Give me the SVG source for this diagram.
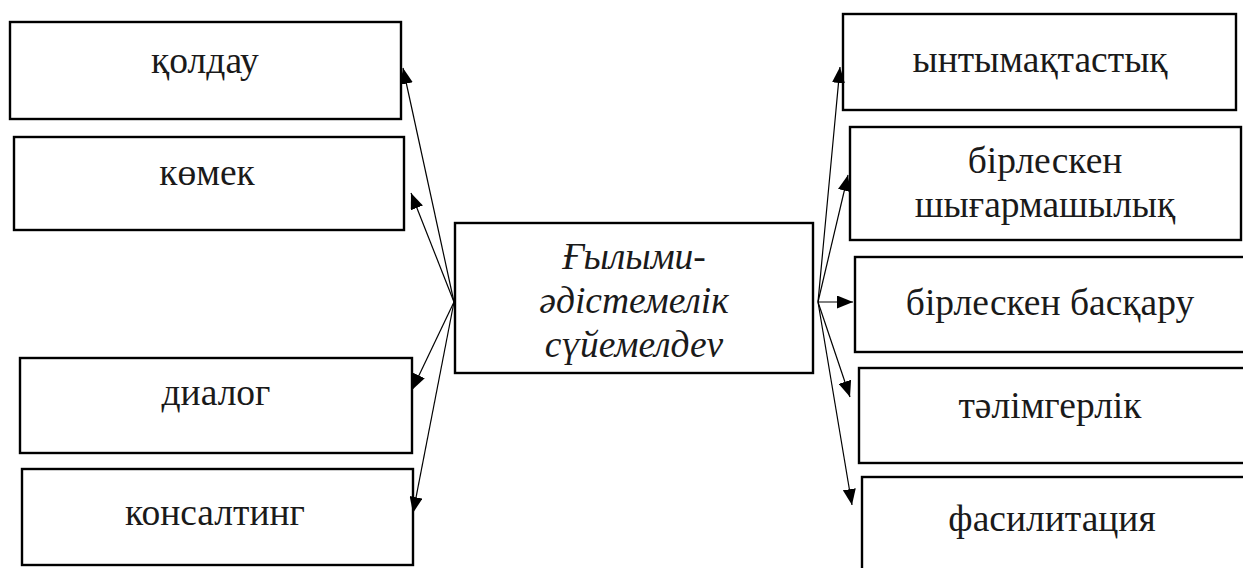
<svg xmlns="http://www.w3.org/2000/svg" width="1243" height="568" viewBox="0 0 1243 568">
<style>
.box{fill:#fff;stroke:#000;stroke-width:2.4}
.t{font-family:"Liberation Serif","Times New Roman",serif;font-size:37.5px;fill:#1a1a1a;text-anchor:middle}
.it{font-style:italic}
.con line{stroke:#000;stroke-width:1.2;marker-end:url(#ah)}
</style>
<defs>
<marker id="ah" markerUnits="userSpaceOnUse" markerWidth="16" markerHeight="13" refX="16" refY="6.5" orient="auto">
<path d="M0,0 L16,6.5 L0,13 z" fill="#000"/>
</marker>
</defs>
<rect width="1243" height="568" fill="#fff"/>
<g id="n-koldau"><rect class="box" x="10" y="22" width="391" height="97"/><text class="t" x="205" y="73">қолдау</text></g>
<g id="n-komek"><rect class="box" x="14" y="137" width="390" height="93"/><text class="t" x="207" y="185">көмек</text></g>
<g id="n-dialog"><rect class="box" x="20" y="358" width="392" height="95"/><text class="t" x="216" y="405">диалог</text></g>
<g id="n-konsalting"><rect class="box" x="22" y="469" width="391" height="96"/><text class="t" x="215" y="525">консалтинг</text></g>
<g id="n-center"><rect class="box" x="455" y="223" width="358" height="150"/>
<text class="t it" x="634" y="269">Ғылыми-</text>
<text class="t it" x="634" y="313">әдістемелік</text>
<text class="t it" x="634" y="357">сүйемелдеv</text></g>
<g id="n-yntymaq"><rect class="box" x="843" y="14" width="393" height="96"/><text class="t" x="1040" y="72">ынтымақтастық</text></g>
<g id="n-birlesken-shyg"><rect class="box" x="850" y="127" width="391" height="113"/><text class="t" x="1045" y="173">бірлескен</text><text class="t" x="1045" y="217">шығармашылық</text></g>
<g id="n-birlesken-bas"><rect class="box" x="855" y="257" width="400" height="95"/><text class="t" x="1050" y="315">бірлескен басқару</text></g>
<g id="n-talimger"><rect class="box" x="859" y="368" width="400" height="95"/><text class="t" x="1050" y="418">тәлімгерлік</text></g>
<g id="n-fasil"><rect class="box" x="862" y="477" width="400" height="100"/><text class="t" x="1052" y="531">фасилитация</text></g>
<g id="connectors" class="con">
<line x1="454" y1="302" x2="403" y2="68"/>
<line x1="454" y1="302" x2="411" y2="193"/>
<line x1="454" y1="302" x2="412" y2="390"/>
<line x1="454" y1="302" x2="413" y2="513"/>
<line x1="818" y1="302" x2="840" y2="67"/>
<line x1="818" y1="302" x2="848" y2="175"/>
<line x1="818" y1="302" x2="853" y2="302"/>
<line x1="818" y1="302" x2="850" y2="397"/>
<line x1="818" y1="302" x2="852" y2="505"/>
</g>
</svg>
